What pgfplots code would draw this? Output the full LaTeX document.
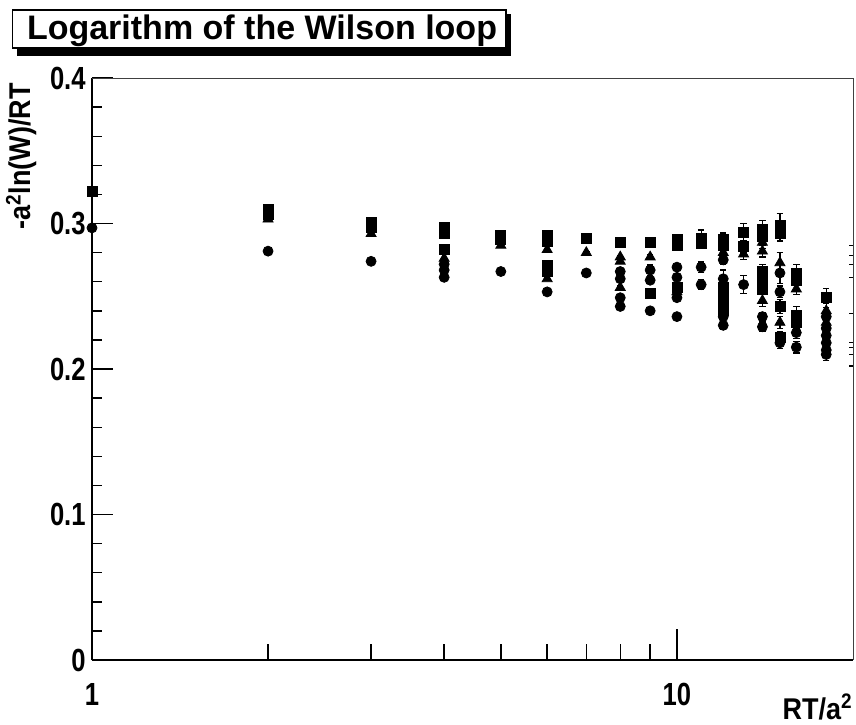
\documentclass[border=0pt]{standalone}
\usepackage{fontspec}
\setmainfont{Liberation Sans}
\newfontfamily\ticknarrow[FakeStretch=0.8]{Liberation Sans}
\newfontfamily\labnarrow[FakeStretch=0.9]{Liberation Sans}
\usepackage{pgfplots}
\pgfplotsset{compat=1.18}
\usepackage{pgfplotstable}

\pgfplotstableread{
x y e
1 0.322 0
2 0.310 0.0005
2 0.306 0.0005
3 0.301 0.0005
3 0.297 0.0005
4 0.297 0.0008
4 0.293 0.0008
4 0.282 0.0008
5 0.292 0.001
5 0.289 0.001
6 0.292 0.001
6 0.288 0.001
6 0.271 0.001
6 0.267 0.001
7 0.290 0.001
8 0.287 0.001
9 0.287 0.0035
9 0.252 0.0015
10 0.289 0.002
10 0.285 0.002
10 0.256 0.002
11 0.290 0.0055
11 0.286 0.003
12 0.289 0.0045
12 0.285 0.003
12 0.256 0.003
12 0.250 0.003
12 0.245 0.003
12 0.240 0.003
13 0.294 0.006
13 0.284 0.004
14 0.296 0.006
14 0.291 0.004
14 0.267 0.005
14 0.260 0.004
14 0.255 0.004
15 0.299 0.008
15 0.293 0.005
15 0.243 0.005
15 0.222 0.004
16 0.266 0.006
16 0.261 0.003
16 0.237 0.006
16 0.232 0.004
18 0.249 0.0065
}\squares

\pgfplotstableread{
x y e
2 0.303 0.0005
3 0.293 0.0005
4 0.276 0.0008
5 0.285 0.001
6 0.282 0.001
6 0.262 0.001
7 0.280 0.001
8 0.277 0.001
8 0.274 0.001
8 0.256 0.001
9 0.277 0.0015
10 0.253 0.002
12 0.280 0.003
13 0.279 0.004
14 0.287 0.004
14 0.281 0.004
14 0.247 0.004
15 0.273 0.007
15 0.232 0.004
16 0.255 0.004
18 0.240 0.005
18 0.232 0.004
}\triangles

\pgfplotstableread{
x y e
1 0.297 0
2 0.281 0.0005
3 0.274 0.0005
4 0.272 0.0008
4 0.268 0.0008
4 0.263 0.0008
5 0.267 0.001
6 0.253 0.001
7 0.266 0.001
8 0.267 0.001
8 0.262 0.001
8 0.249 0.001
8 0.243 0.001
9 0.268 0.0035
9 0.261 0.0015
9 0.240 0.0015
10 0.270 0.002
10 0.263 0.002
10 0.249 0.002
10 0.236 0.002
11 0.270 0.0035
11 0.258 0.0035
12 0.275 0.003
12 0.262 0.006
12 0.236 0.003
12 0.230 0.003
13 0.258 0.006
14 0.236 0.003
14 0.229 0.003
15 0.266 0.007
15 0.253 0.004
15 0.218 0.004
16 0.225 0.004
16 0.215 0.004
18 0.236 0.004
18 0.228 0.004
18 0.223 0.004
18 0.218 0.004
18 0.213 0.004
18 0.210 0.004
}\circles

\begin{document}
\begin{tikzpicture}
\useasboundingbox (-46pt,-32pt) rectangle (382pt,330pt);
\begin{axis}[
  name=ax,
  at={(0pt,0pt)}, anchor=south west,
  scale only axis,
  width=380.5pt, height=291pt,
  xmode=log, xmin=1, xmax=20,
  ymin=0, ymax=0.4,
  axis x line*=bottom, axis y line*=left,
  axis line style={line width=1pt, black},
  xtick={1,10}, xticklabels={1,10},
  minor xtick={2,3,4,5,6,7,8,9},
  ytick={0,0.1,0.2,0.3,0.4},
  minor y tick num=4,
  tick align=inside,
  tick style={line width=0.7pt, black},
  xtick style={/pgfplots/major tick length=15.5pt, /pgfplots/minor tick length=8pt},
  ytick style={/pgfplots/major tick length=10.5pt, /pgfplots/minor tick length=5.25pt},
  /pgf/number format/assume math mode=true,
  /pgf/number format/fixed,
  yticklabel={\pgfmathprintnumber{\tick}},
  ticklabel style={font=\ticknarrow\fontsize{16}{18}\selectfont\bfseries},
  yticklabel style={anchor=east, inner sep=0pt, xshift=-3pt},
  xticklabel style={anchor=north, inner sep=0pt, yshift=-11.5pt},
  error bars/error bar style={line width=0.6pt, black},
  error bars/error mark options={mark size=1.6pt, line width=0.6pt, black, rotate=90},
]
\addplot[only marks, mark=square*, mark size=2.5pt, black,
  error bars/.cd, y dir=both, y explicit]
  table[x=x, y=y, y error=e] {\squares};
\addplot[only marks, mark=triangle*, mark size=2.9pt, black,
  error bars/.cd, y dir=both, y explicit]
  table[x=x, y=y, y error=e] {\triangles};
\addplot[only marks, mark=*, mark size=2.5pt, black,
  error bars/.cd, y dir=both, y explicit]
  table[x=x, y=y, y error=e] {\circles};
% clipped error-bar caps of points at the right edge
\addplot[black, line width=0.6pt, forget plot] coordinates {(19.7,0.285) (20,0.285)};
\addplot[black, line width=0.6pt, forget plot] coordinates {(19.7,0.278) (20,0.278)};
\addplot[black, line width=0.6pt, forget plot] coordinates {(19.7,0.272) (20,0.272)};
\addplot[black, line width=0.6pt, forget plot] coordinates {(19.7,0.263) (20,0.263)};
\addplot[black, line width=0.6pt, forget plot] coordinates {(19.7,0.238) (20,0.238)};
\addplot[black, line width=0.6pt, forget plot] coordinates {(19.7,0.218) (20,0.218)};
\addplot[black, line width=0.6pt, forget plot] coordinates {(19.7,0.215) (20,0.215)};
\addplot[black, line width=0.6pt, forget plot] coordinates {(19.7,0.210) (20,0.210)};
\addplot[black, line width=0.6pt, forget plot] coordinates {(19.7,0.202) (20,0.202)};
\end{axis}
% thin frame on top and right
\draw[line width=0.5pt, black!75] (ax.north west) -- (ax.north east) -- (ax.south east);
% title box
\fill[black] (-37.5pt,302pt) rectangle (209.5pt,323pt);
\draw[line width=0.6pt, fill=white] (-39.75pt,306pt) rectangle (207pt,325pt);
\node[anchor=base, inner sep=0pt, font=\fontsize{17}{20}\selectfont\bfseries] at (85pt,310pt) {Logarithm of the Wilson loop};
% axis titles
\node[anchor=base east, inner sep=0pt, font=\labnarrow\fontsize{15}{17}\selectfont\bfseries] at (380.5pt,-29.5pt) {RT/a\textsuperscript{2}};
\node[rotate=90, anchor=base east, inner sep=0pt, font=\labnarrow\fontsize{15}{17}\selectfont\bfseries] at (-30.5pt,288.5pt) {-a\textsuperscript{2}ln(W)/RT};
\end{tikzpicture}
\end{document}
